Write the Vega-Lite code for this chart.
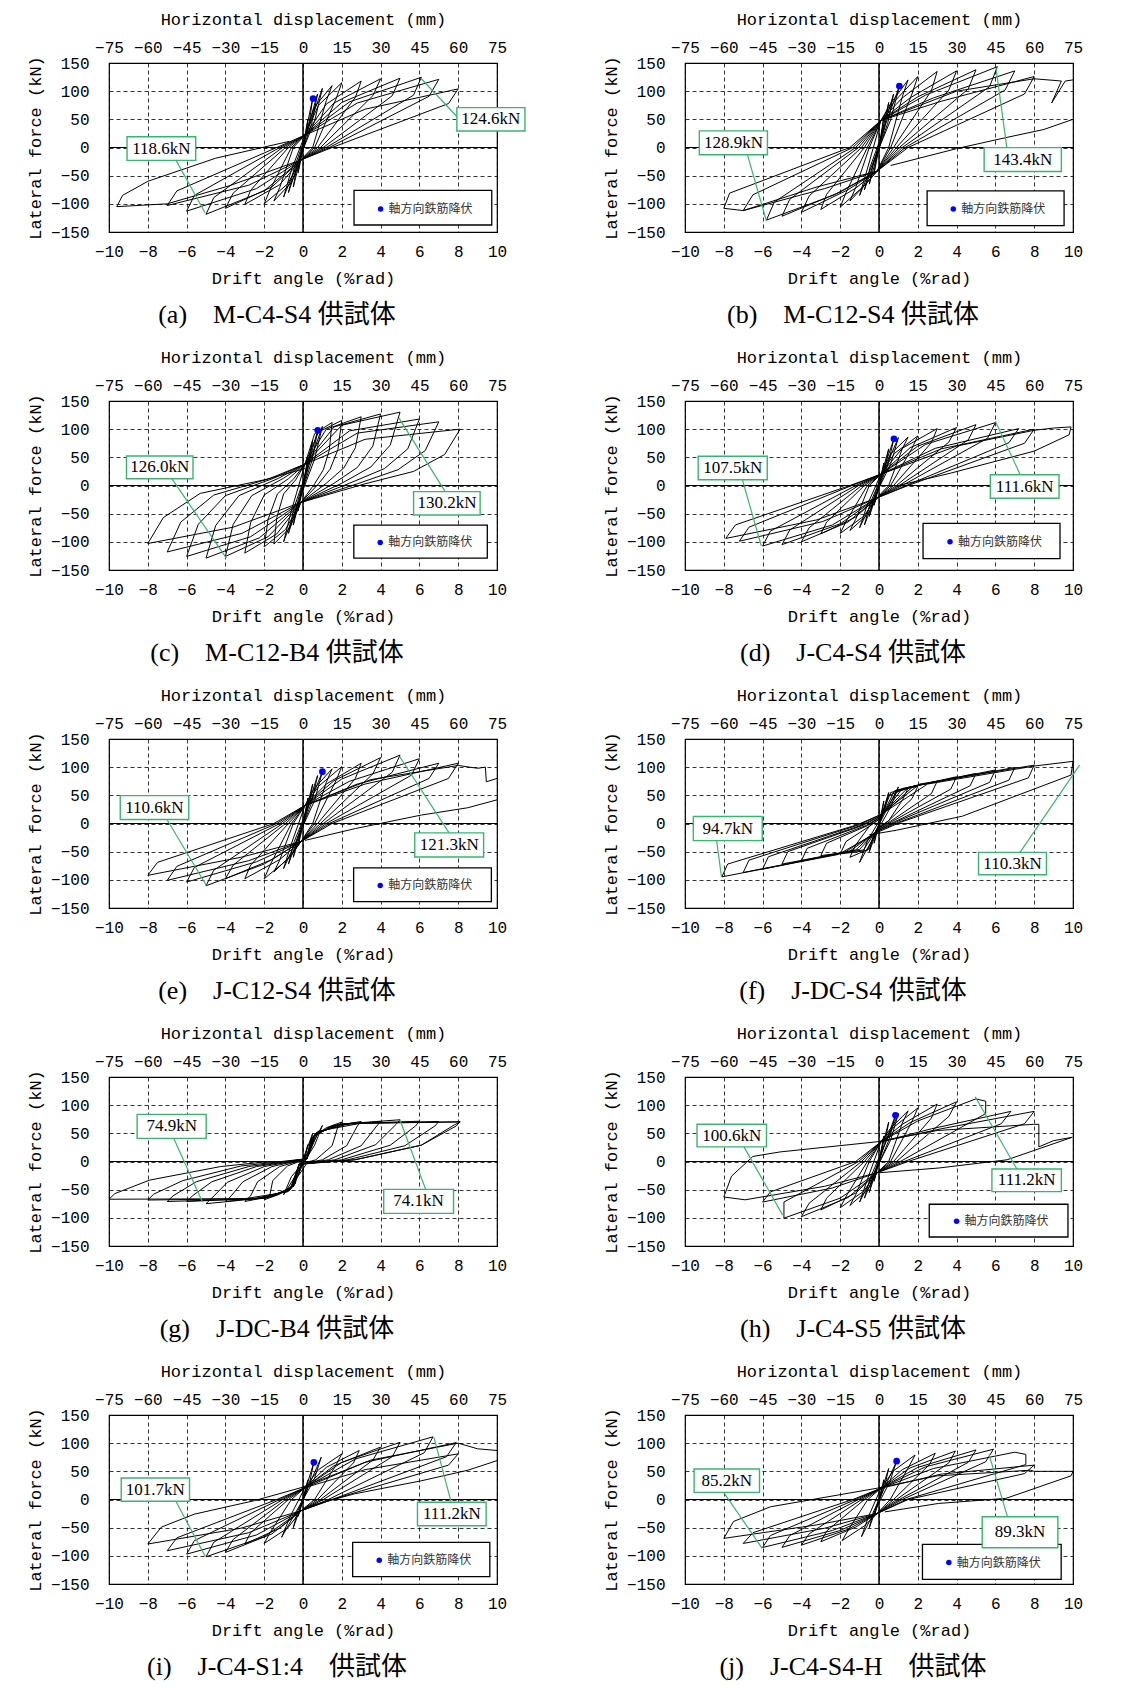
{"$schema":"https://vega.github.io/schema/vega-lite/v6.json","background":"white","padding":{"left":25,"top":9,"right":5,"bottom":2},
"config":{"view":{"stroke":"black","strokeWidth":1.2},"axis":{"labelFont":"Liberation Mono","labelFontSize":16,"labelColor":"black","titleFont":"Liberation Mono","titleFontSize":17,"titleFontWeight":"normal","titleColor":"black","ticks":false,"domain":false,"labelOverlap":false,"labelFlush":false}},
"data":{"values":[
{"p":"a","x":0,"y":0},{"p":"a","x":0.25,"y":50},{"p":"a","x":0.15,"y":22},{"p":"a","x":-0.25,"y":-45},{"p":"a","x":-0.15,"y":-20},{"p":"a","x":0.5,"y":87},{"p":"a","x":0.3,"y":39},{"p":"a","x":-0.5,"y":-70},{"p":"a","x":-0.3,"y":-31},{"p":"a","x":0.75,"y":95},{"p":"a","x":0.45,"y":43},{"p":"a","x":-0.75,"y":-80},{"p":"a","x":-0.45,"y":-36},{"p":"a","x":1,"y":105},{"p":"a","x":0.6,"y":47},{"p":"a","x":-1,"y":-88},{"p":"a","x":-0.6,"y":-40},
{"p":"a","x":0.1,"y":22},{"p":"a","x":0.6,"y":72},{"p":"a","x":1.5,"y":110},{"p":"a","x":1.2,"y":83},{"p":"a","x":0.5,"y":0},{"p":"a","x":-0.1,"y":-22},{"p":"a","x":-0.6,"y":-62},{"p":"a","x":-1.5,"y":-95},{"p":"a","x":-1.2,"y":-71},{"p":"a","x":-0.5,"y":0},
{"p":"a","x":0.1,"y":22},{"p":"a","x":0.8,"y":75},{"p":"a","x":2,"y":115},{"p":"a","x":1.7,"y":86},{"p":"a","x":0.6,"y":0},{"p":"a","x":-0.1,"y":-22},{"p":"a","x":-0.8,"y":-65},{"p":"a","x":-2,"y":-100},{"p":"a","x":-1.7,"y":-75},{"p":"a","x":-0.6,"y":0},
{"p":"a","x":0.1,"y":22},{"p":"a","x":1.2,"y":77},{"p":"a","x":3,"y":118},{"p":"a","x":2.7,"y":89},{"p":"a","x":0.75,"y":0},{"p":"a","x":-0.1,"y":-22},{"p":"a","x":-1.2,"y":-66},{"p":"a","x":-3,"y":-101},{"p":"a","x":-2.7,"y":-76},{"p":"a","x":-0.75,"y":0},
{"p":"a","x":0.1,"y":22},{"p":"a","x":1.6,"y":79},{"p":"a","x":4,"y":122},{"p":"a","x":3.6,"y":92},{"p":"a","x":0.9,"y":0},{"p":"a","x":-0.1,"y":-22},{"p":"a","x":-1.6,"y":-70},{"p":"a","x":-4,"y":-108},{"p":"a","x":-3.6,"y":-81},{"p":"a","x":-0.9,"y":0},
{"p":"a","x":0.1,"y":22},{"p":"a","x":2,"y":80},{"p":"a","x":5,"y":123},{"p":"a","x":4.6,"y":92},{"p":"a","x":1.05,"y":0},{"p":"a","x":-0.1,"y":-22},{"p":"a","x":-2,"y":-77},{"p":"a","x":-5,"y":-118.6},{"p":"a","x":-4.6,"y":-89},{"p":"a","x":-1.05,"y":0},
{"p":"a","x":0.1,"y":22},{"p":"a","x":2.4,"y":81},{"p":"a","x":6.1,"y":124.6},{"p":"a","x":5.7,"y":93},{"p":"a","x":1.2,"y":0},{"p":"a","x":-0.1,"y":-22},{"p":"a","x":-2.4,"y":-73},{"p":"a","x":-6,"y":-113},{"p":"a","x":-5.6,"y":-85},{"p":"a","x":-1.2,"y":0},
{"p":"a","x":0.1,"y":22},{"p":"a","x":2.8,"y":79},{"p":"a","x":7,"y":121},{"p":"a","x":6.5,"y":91},{"p":"a","x":1.35,"y":0},{"p":"a","x":-0.1,"y":-22},{"p":"a","x":-2.8,"y":-67},{"p":"a","x":-7,"y":-103},{"p":"a","x":-6.5,"y":-77},{"p":"a","x":-1.35,"y":0},
{"p":"a","x":0.1,"y":22},{"p":"a","x":3.2,"y":68},{"p":"a","x":8,"y":104},{"p":"a","x":7.5,"y":78},{"p":"a","x":1.5,"y":0},{"p":"a","x":-0.1,"y":-22},{"p":"a","x":-3.8,"y":-68},{"p":"a","x":-7,"y":-100},{"p":"a","x":-9.6,"y":-105},{"p":"a","x":-9.3,"y":-85},{"p":"a","x":-8,"y":-60},{"p":"a","x":-4.5,"y":-19},{"p":"a","x":-0.7,"y":11},

{"p":"b","x":0,"y":0},{"p":"b","x":0.25,"y":55},{"p":"b","x":0.15,"y":25},{"p":"b","x":-0.25,"y":-45},{"p":"b","x":-0.15,"y":-20},{"p":"b","x":0.5,"y":80},{"p":"b","x":0.3,"y":36},{"p":"b","x":-0.5,"y":-65},{"p":"b","x":-0.3,"y":-29},{"p":"b","x":0.75,"y":95},{"p":"b","x":0.45,"y":43},{"p":"b","x":-0.75,"y":-75},{"p":"b","x":-0.45,"y":-34},{"p":"b","x":1.05,"y":109},{"p":"b","x":0.6,"y":49},{"p":"b","x":-1,"y":-85},{"p":"b","x":-0.6,"y":-38},
{"p":"b","x":0.1,"y":48},{"p":"b","x":0.6,"y":78},{"p":"b","x":1.5,"y":120},{"p":"b","x":1.2,"y":90},{"p":"b","x":0.5,"y":0},{"p":"b","x":-0.1,"y":-42},{"p":"b","x":-0.6,"y":-62},{"p":"b","x":-1.5,"y":-95},{"p":"b","x":-1.2,"y":-71},{"p":"b","x":-0.5,"y":0},
{"p":"b","x":0.1,"y":48},{"p":"b","x":0.8,"y":82},{"p":"b","x":2,"y":126},{"p":"b","x":1.7,"y":95},{"p":"b","x":0.6,"y":0},{"p":"b","x":-0.1,"y":-42},{"p":"b","x":-0.8,"y":-69},{"p":"b","x":-2,"y":-106},{"p":"b","x":-1.7,"y":-80},{"p":"b","x":-0.6,"y":0},
{"p":"b","x":0.1,"y":48},{"p":"b","x":1.2,"y":88},{"p":"b","x":3,"y":135},{"p":"b","x":2.7,"y":101},{"p":"b","x":0.75,"y":0},{"p":"b","x":-0.1,"y":-42},{"p":"b","x":-1.2,"y":-72},{"p":"b","x":-3,"y":-110},{"p":"b","x":-2.7,"y":-83},{"p":"b","x":-0.75,"y":0},
{"p":"b","x":0.1,"y":48},{"p":"b","x":1.6,"y":88},{"p":"b","x":4,"y":136},{"p":"b","x":3.6,"y":102},{"p":"b","x":0.9,"y":0},{"p":"b","x":-0.1,"y":-42},{"p":"b","x":-1.6,"y":-75},{"p":"b","x":-4,"y":-115},{"p":"b","x":-3.6,"y":-86},{"p":"b","x":-0.9,"y":0},
{"p":"b","x":0.1,"y":48},{"p":"b","x":2,"y":90},{"p":"b","x":5,"y":138},{"p":"b","x":4.6,"y":104},{"p":"b","x":1.05,"y":0},{"p":"b","x":-0.1,"y":-42},{"p":"b","x":-2,"y":-79},{"p":"b","x":-5,"y":-122},{"p":"b","x":-4.6,"y":-92},{"p":"b","x":-1.05,"y":0},
{"p":"b","x":0.1,"y":48},{"p":"b","x":2.4,"y":93},{"p":"b","x":6.1,"y":143.4},{"p":"b","x":5.7,"y":108},{"p":"b","x":1.2,"y":0},{"p":"b","x":-0.1,"y":-42},{"p":"b","x":-2.3,"y":-84},{"p":"b","x":-5.8,"y":-128.9},{"p":"b","x":-5.4,"y":-97},{"p":"b","x":-1.2,"y":0},
{"p":"b","x":0.1,"y":48},{"p":"b","x":2.8,"y":88},{"p":"b","x":7,"y":136},{"p":"b","x":6.5,"y":102},{"p":"b","x":1.35,"y":0},{"p":"b","x":-0.1,"y":-42},{"p":"b","x":-2.8,"y":-73},{"p":"b","x":-7,"y":-112},{"p":"b","x":-6.5,"y":-84},{"p":"b","x":-1.35,"y":0},
{"p":"b","x":0.1,"y":48},{"p":"b","x":3.2,"y":82},{"p":"b","x":8,"y":126},{"p":"b","x":7.5,"y":95},{"p":"b","x":1.5,"y":0},{"p":"b","x":-0.1,"y":-42},{"p":"b","x":-3.2,"y":-70},{"p":"b","x":-7,"y":-112},{"p":"b","x":-8,"y":-108},{"p":"b","x":-7.7,"y":-81},{"p":"b","x":-1.5,"y":0},
{"p":"b","x":0.1,"y":48},{"p":"b","x":4,"y":100},{"p":"b","x":8,"y":122},{"p":"b","x":9.4,"y":118},{"p":"b","x":8.9,"y":79},{"p":"b","x":9.6,"y":118},{"p":"b","x":10,"y":120},
{"p":"b","g":1,"x":0.6,"y":-32},{"p":"b","g":1,"x":4,"y":-2},{"p":"b","g":1,"x":6.6,"y":18},{"p":"b","g":1,"x":8.5,"y":32},{"p":"b","g":1,"x":10,"y":50},

{"p":"c","x":0,"y":0},{"p":"c","x":0.25,"y":50},{"p":"c","x":0.15,"y":23},{"p":"c","x":-0.25,"y":-45},{"p":"c","x":-0.15,"y":-20},{"p":"c","x":0.5,"y":80},{"p":"c","x":0.3,"y":36},{"p":"c","x":-0.5,"y":-70},{"p":"c","x":-0.3,"y":-32},{"p":"c","x":0.76,"y":98},{"p":"c","x":0.46,"y":44},{"p":"c","x":-0.75,"y":-85},{"p":"c","x":-0.45,"y":-38},{"p":"c","x":1,"y":105},{"p":"c","x":0.6,"y":47},{"p":"c","x":-1,"y":-100},{"p":"c","x":-0.6,"y":-45},
{"p":"c","x":0.1,"y":38},{"p":"c","x":0.6,"y":92},{"p":"c","x":1.5,"y":112},{"p":"c","x":1.35,"y":62},{"p":"c","x":1.05,"y":28},{"p":"c","x":0.6,"y":3},{"p":"c","x":-0.1,"y":-30},{"p":"c","x":-0.68,"y":-75},{"p":"c","x":-1.5,"y":-104},{"p":"c","x":-1.35,"y":-57},{"p":"c","x":-1,"y":-15},{"p":"c","x":-0.38,"y":10},
{"p":"c","x":0.1,"y":38},{"p":"c","x":0.8,"y":95},{"p":"c","x":2,"y":115.5},{"p":"c","x":1.8,"y":64},{"p":"c","x":1.4,"y":29},{"p":"c","x":0.8,"y":3},{"p":"c","x":-0.1,"y":-30},{"p":"c","x":-0.9,"y":-78},{"p":"c","x":-2,"y":-109},{"p":"c","x":-1.8,"y":-60},{"p":"c","x":-1.32,"y":-15},{"p":"c","x":-0.5,"y":11},
{"p":"c","x":0.1,"y":38},{"p":"c","x":1.2,"y":100},{"p":"c","x":3,"y":122},{"p":"c","x":2.7,"y":67},{"p":"c","x":2.1,"y":31},{"p":"c","x":1.2,"y":4},{"p":"c","x":-0.1,"y":-30},{"p":"c","x":-1.35,"y":-86},{"p":"c","x":-3,"y":-120},{"p":"c","x":-2.7,"y":-66},{"p":"c","x":-2,"y":-17},{"p":"c","x":-0.75,"y":12},
{"p":"c","x":0.1,"y":38},{"p":"c","x":1.6,"y":104},{"p":"c","x":4,"y":127},{"p":"c","x":3.6,"y":70},{"p":"c","x":2.8,"y":32},{"p":"c","x":1.6,"y":4},{"p":"c","x":-0.1,"y":-30},{"p":"c","x":-1.8,"y":-91},{"p":"c","x":-4,"y":-126},{"p":"c","x":-3.6,"y":-69},{"p":"c","x":-2.64,"y":-18},{"p":"c","x":-1,"y":13},
{"p":"c","x":0.1,"y":38},{"p":"c","x":2,"y":107},{"p":"c","x":5,"y":130.2},{"p":"c","x":4.5,"y":72},{"p":"c","x":3.5,"y":33},{"p":"c","x":2,"y":4},{"p":"c","x":-0.1,"y":-30},{"p":"c","x":-2.25,"y":-93},{"p":"c","x":-5,"y":-129},{"p":"c","x":-4.5,"y":-71},{"p":"c","x":-3.3,"y":-18},{"p":"c","x":-1.25,"y":13},
{"p":"c","x":0.1,"y":38},{"p":"c","x":2.4,"y":97},{"p":"c","x":6,"y":118},{"p":"c","x":5.4,"y":65},{"p":"c","x":4.2,"y":30},{"p":"c","x":2.4,"y":4},{"p":"c","x":-0.1,"y":-30},{"p":"c","x":-2.7,"y":-91},{"p":"c","x":-6,"y":-126},{"p":"c","x":-5.4,"y":-69},{"p":"c","x":-4,"y":-18},{"p":"c","x":-1.5,"y":13},
{"p":"c","x":0.1,"y":38},{"p":"c","x":2.8,"y":93},{"p":"c","x":7,"y":113},{"p":"c","x":6.3,"y":62},{"p":"c","x":4.9,"y":28},{"p":"c","x":2.8,"y":3},{"p":"c","x":-0.1,"y":-30},{"p":"c","x":-3.15,"y":-85},{"p":"c","x":-7,"y":-118},{"p":"c","x":-6.3,"y":-65},{"p":"c","x":-4.6,"y":-17},{"p":"c","x":-1.75,"y":12},
{"p":"c","x":0.1,"y":38},{"p":"c","x":3.2,"y":82},{"p":"c","x":8.1,"y":100},{"p":"c","x":7.3,"y":55},{"p":"c","x":5.7,"y":25},{"p":"c","x":3.2,"y":3},{"p":"c","x":-0.1,"y":-30},{"p":"c","x":-3.6,"y":-74},{"p":"c","x":-8,"y":-103},{"p":"c","x":-7.2,"y":-57},{"p":"c","x":-5.3,"y":-14},{"p":"c","x":-2,"y":10},{"p":"c","x":0.1,"y":30},

{"p":"d","x":0,"y":0},{"p":"d","x":0.25,"y":40},{"p":"d","x":0.15,"y":18},{"p":"d","x":-0.25,"y":-35},{"p":"d","x":-0.15,"y":-16},{"p":"d","x":0.5,"y":65},{"p":"d","x":0.3,"y":29},{"p":"d","x":-0.5,"y":-55},{"p":"d","x":-0.3,"y":-25},{"p":"d","x":0.77,"y":83},{"p":"d","x":0.46,"y":37},{"p":"d","x":-0.75,"y":-70},{"p":"d","x":-0.45,"y":-31},{"p":"d","x":1,"y":85},{"p":"d","x":0.6,"y":38},{"p":"d","x":-1,"y":-75},{"p":"d","x":-0.6,"y":-34},
{"p":"d","x":0.1,"y":20},{"p":"d","x":0.6,"y":56},{"p":"d","x":1.5,"y":86},{"p":"d","x":1.2,"y":65},{"p":"d","x":0.5,"y":0},{"p":"d","x":-0.1,"y":-22},{"p":"d","x":-0.6,"y":-52},{"p":"d","x":-1.5,"y":-80},{"p":"d","x":-1.2,"y":-60},{"p":"d","x":-0.5,"y":0},
{"p":"d","x":0.1,"y":20},{"p":"d","x":0.8,"y":57},{"p":"d","x":2,"y":88},{"p":"d","x":1.7,"y":66},{"p":"d","x":0.6,"y":0},{"p":"d","x":-0.1,"y":-22},{"p":"d","x":-0.8,"y":-55},{"p":"d","x":-2,"y":-85},{"p":"d","x":-1.7,"y":-64},{"p":"d","x":-0.6,"y":0},
{"p":"d","x":0.1,"y":20},{"p":"d","x":1.2,"y":66},{"p":"d","x":3,"y":101},{"p":"d","x":2.7,"y":76},{"p":"d","x":0.75,"y":0},{"p":"d","x":-0.1,"y":-22},{"p":"d","x":-1.2,"y":-56},{"p":"d","x":-3,"y":-86},{"p":"d","x":-2.7,"y":-65},{"p":"d","x":-0.75,"y":0},
{"p":"d","x":0.1,"y":20},{"p":"d","x":1.6,"y":67},{"p":"d","x":4,"y":103},{"p":"d","x":3.6,"y":77},{"p":"d","x":0.9,"y":0},{"p":"d","x":-0.1,"y":-22},{"p":"d","x":-1.6,"y":-65},{"p":"d","x":-4,"y":-100},{"p":"d","x":-3.6,"y":-75},{"p":"d","x":-0.9,"y":0},
{"p":"d","x":0.1,"y":20},{"p":"d","x":2,"y":70},{"p":"d","x":5,"y":108},{"p":"d","x":4.6,"y":81},{"p":"d","x":1.05,"y":0},{"p":"d","x":-0.1,"y":-22},{"p":"d","x":-2,"y":-68},{"p":"d","x":-5,"y":-105},{"p":"d","x":-4.6,"y":-79},{"p":"d","x":-1.05,"y":0},
{"p":"d","x":0.1,"y":20},{"p":"d","x":2.4,"y":73},{"p":"d","x":6,"y":111.6},{"p":"d","x":5.6,"y":84},{"p":"d","x":1.2,"y":0},{"p":"d","x":-0.1,"y":-22},{"p":"d","x":-2.4,"y":-70},{"p":"d","x":-6,"y":-107.5},{"p":"d","x":-5.6,"y":-81},{"p":"d","x":-1.2,"y":0},
{"p":"d","x":0.1,"y":20},{"p":"d","x":2.9,"y":66},{"p":"d","x":7.2,"y":101},{"p":"d","x":6.7,"y":76},{"p":"d","x":1.4,"y":0},{"p":"d","x":-0.1,"y":-22},{"p":"d","x":-2.9,"y":-64},{"p":"d","x":-7.2,"y":-99},{"p":"d","x":-6.7,"y":-74},{"p":"d","x":-1.4,"y":0},
{"p":"d","x":0.1,"y":20},{"p":"d","x":3.2,"y":65},{"p":"d","x":8,"y":100},{"p":"d","x":7.5,"y":75},{"p":"d","x":1.5,"y":0},{"p":"d","x":-0.1,"y":-22},{"p":"d","x":-3.2,"y":-61},{"p":"d","x":-7.9,"y":-94},{"p":"d","x":-7.4,"y":-70},{"p":"d","x":-1.5,"y":0},
{"p":"d","x":0.1,"y":20},{"p":"d","x":4,"y":70},{"p":"d","x":8,"y":98},{"p":"d","x":9,"y":102},{"p":"d","x":9.9,"y":104},{"p":"d","x":9.8,"y":90},{"p":"d","x":8,"y":61},{"p":"d","x":3.7,"y":22},{"p":"d","x":1,"y":0},

{"p":"e","x":0,"y":0},{"p":"e","x":0.25,"y":45},{"p":"e","x":0.15,"y":20},{"p":"e","x":-0.25,"y":-40},{"p":"e","x":-0.15,"y":-18},{"p":"e","x":0.5,"y":70},{"p":"e","x":0.3,"y":32},{"p":"e","x":-0.5,"y":-60},{"p":"e","x":-0.3,"y":-27},{"p":"e","x":0.75,"y":85},{"p":"e","x":0.45,"y":38},{"p":"e","x":-0.75,"y":-72},{"p":"e","x":-0.45,"y":-32},{"p":"e","x":1,"y":92},{"p":"e","x":0.6,"y":41},{"p":"e","x":-1,"y":-80},{"p":"e","x":-0.6,"y":-36},
{"p":"e","x":0.1,"y":32},{"p":"e","x":0.6,"y":63},{"p":"e","x":1.5,"y":97},{"p":"e","x":1.2,"y":73},{"p":"e","x":0.5,"y":0},{"p":"e","x":-0.1,"y":-32},{"p":"e","x":-0.6,"y":-56},{"p":"e","x":-1.5,"y":-86},{"p":"e","x":-1.2,"y":-65},{"p":"e","x":-0.5,"y":0},
{"p":"e","x":0.1,"y":32},{"p":"e","x":0.8,"y":66},{"p":"e","x":2,"y":101},{"p":"e","x":1.7,"y":76},{"p":"e","x":0.6,"y":0},{"p":"e","x":-0.1,"y":-32},{"p":"e","x":-0.8,"y":-64},{"p":"e","x":-2,"y":-98},{"p":"e","x":-1.7,"y":-74},{"p":"e","x":-0.6,"y":0},
{"p":"e","x":0.1,"y":32},{"p":"e","x":1.2,"y":70},{"p":"e","x":3,"y":107},{"p":"e","x":2.7,"y":80},{"p":"e","x":0.75,"y":0},{"p":"e","x":-0.1,"y":-32},{"p":"e","x":-1.2,"y":-64},{"p":"e","x":-3,"y":-98},{"p":"e","x":-2.7,"y":-74},{"p":"e","x":-0.75,"y":0},
{"p":"e","x":0.1,"y":32},{"p":"e","x":1.6,"y":76},{"p":"e","x":4,"y":117},{"p":"e","x":3.6,"y":88},{"p":"e","x":0.9,"y":0},{"p":"e","x":-0.1,"y":-32},{"p":"e","x":-1.6,"y":-64},{"p":"e","x":-4,"y":-98},{"p":"e","x":-3.6,"y":-74},{"p":"e","x":-0.9,"y":0},
{"p":"e","x":0.1,"y":32},{"p":"e","x":2,"y":79},{"p":"e","x":5,"y":121.3},{"p":"e","x":4.6,"y":91},{"p":"e","x":1.05,"y":0},{"p":"e","x":-0.1,"y":-32},{"p":"e","x":-2,"y":-72},{"p":"e","x":-5,"y":-110.6},{"p":"e","x":-4.6,"y":-83},{"p":"e","x":-1.05,"y":0},
{"p":"e","x":0.1,"y":32},{"p":"e","x":2.4,"y":75},{"p":"e","x":6,"y":115},{"p":"e","x":5.6,"y":86},{"p":"e","x":1.2,"y":0},{"p":"e","x":-0.1,"y":-32},{"p":"e","x":-2.4,"y":-68},{"p":"e","x":-6,"y":-104},{"p":"e","x":-5.6,"y":-78},{"p":"e","x":-1.2,"y":0},
{"p":"e","x":0.1,"y":32},{"p":"e","x":2.8,"y":70},{"p":"e","x":7,"y":107},{"p":"e","x":6.5,"y":80},{"p":"e","x":1.35,"y":0},{"p":"e","x":-0.1,"y":-32},{"p":"e","x":-2.8,"y":-66},{"p":"e","x":-7,"y":-101},{"p":"e","x":-6.5,"y":-76},{"p":"e","x":-1.35,"y":0},
{"p":"e","x":0.1,"y":32},{"p":"e","x":3.2,"y":70},{"p":"e","x":8,"y":107},{"p":"e","x":7.5,"y":80},{"p":"e","x":1.5,"y":0},{"p":"e","x":-0.1,"y":-32},{"p":"e","x":-3.2,"y":-60},{"p":"e","x":-8,"y":-92},{"p":"e","x":-7.5,"y":-69},{"p":"e","x":-1.5,"y":0},
{"p":"e","x":0.1,"y":32},{"p":"e","x":3.5,"y":78},{"p":"e","x":8,"y":103},{"p":"e","x":9,"y":98},{"p":"e","x":9.4,"y":100},{"p":"e","x":9.45,"y":74},{"p":"e","x":10,"y":80},
{"p":"e","g":1,"x":0.1,"y":-30},{"p":"e","g":1,"x":2.7,"y":-9},{"p":"e","g":1,"x":6.1,"y":15},{"p":"e","g":1,"x":8.5,"y":28},{"p":"e","g":1,"x":10,"y":42},

{"p":"f","x":0,"y":0},{"p":"f","x":0.25,"y":40},{"p":"f","x":0.15,"y":18},{"p":"f","x":-0.25,"y":-35},{"p":"f","x":-0.15,"y":-16},{"p":"f","x":0.5,"y":55},{"p":"f","x":0.3,"y":25},{"p":"f","x":-0.5,"y":-50},{"p":"f","x":-0.3,"y":-22},{"p":"f","x":1,"y":65},{"p":"f","x":0.6,"y":29},{"p":"f","x":-1,"y":-69},{"p":"f","x":-0.6,"y":-31},
{"p":"f","x":0.1,"y":10},{"p":"f","x":0.5,"y":50},{"p":"f","x":1.5,"y":63},{"p":"f","x":1.2,"y":41},{"p":"f","x":0.5,"y":5},{"p":"f","x":-0.1,"y":-10},{"p":"f","x":-0.5,"y":-45},{"p":"f","x":-1.5,"y":-60},{"p":"f","x":-1.2,"y":-38},{"p":"f","x":-0.5,"y":-5},
{"p":"f","x":0.1,"y":10},{"p":"f","x":0.6,"y":55},{"p":"f","x":2,"y":66},{"p":"f","x":1.7,"y":44},{"p":"f","x":0.5,"y":5},{"p":"f","x":-0.1,"y":-10},{"p":"f","x":-0.6,"y":-48},{"p":"f","x":-2,"y":-54},{"p":"f","x":-1.7,"y":-32},{"p":"f","x":-0.5,"y":-5},
{"p":"f","x":0.1,"y":10},{"p":"f","x":0.8,"y":58},{"p":"f","x":3,"y":75},{"p":"f","x":2.7,"y":53},{"p":"f","x":0.6,"y":4},{"p":"f","x":-0.1,"y":-10},{"p":"f","x":-0.8,"y":-47},{"p":"f","x":-3,"y":-57},{"p":"f","x":-2.7,"y":-35},{"p":"f","x":-0.6,"y":-4},
{"p":"f","x":0.1,"y":12},{"p":"f","x":1,"y":60},{"p":"f","x":4,"y":83},{"p":"f","x":3.7,"y":61},{"p":"f","x":0.7,"y":4},{"p":"f","x":-0.1,"y":-12},{"p":"f","x":-1,"y":-46},{"p":"f","x":-4,"y":-66},{"p":"f","x":-3.7,"y":-44},{"p":"f","x":-0.7,"y":-4},
{"p":"f","x":0.1,"y":12},{"p":"f","x":1.2,"y":62},{"p":"f","x":5,"y":89},{"p":"f","x":4.7,"y":67},{"p":"f","x":0.8,"y":3},{"p":"f","x":-0.1,"y":-12},{"p":"f","x":-1.2,"y":-47},{"p":"f","x":-5,"y":-72},{"p":"f","x":-4.7,"y":-50},{"p":"f","x":-0.8,"y":-3},
{"p":"f","x":0.1,"y":14},{"p":"f","x":1.5,"y":64},{"p":"f","x":6,"y":95},{"p":"f","x":5.7,"y":73},{"p":"f","x":0.9,"y":3},{"p":"f","x":-0.1,"y":-14},{"p":"f","x":-1.5,"y":-49},{"p":"f","x":-6,"y":-81},{"p":"f","x":-5.7,"y":-59},{"p":"f","x":-0.9,"y":-3},
{"p":"f","x":0.1,"y":14},{"p":"f","x":1.8,"y":67},{"p":"f","x":7,"y":99.5},{"p":"f","x":6.7,"y":77},{"p":"f","x":1,"y":2},{"p":"f","x":-0.1,"y":-14},{"p":"f","x":-1.8,"y":-52},{"p":"f","x":-7,"y":-87},{"p":"f","x":-6.7,"y":-65},{"p":"f","x":-1,"y":-2},
{"p":"f","x":0.1,"y":16},{"p":"f","x":2.1,"y":70},{"p":"f","x":8,"y":103.6},{"p":"f","x":7.7,"y":81},{"p":"f","x":1.1,"y":2},{"p":"f","x":-0.1,"y":-16},{"p":"f","x":-2.1,"y":-55},{"p":"f","x":-8.1,"y":-94.7},{"p":"f","x":-7.8,"y":-72},{"p":"f","x":-1.1,"y":-2},
{"p":"f","x":0.1,"y":16},{"p":"f","x":2.5,"y":70},{"p":"f","x":8,"y":102},{"p":"f","x":10,"y":110.3},{"p":"f","x":9.9,"y":86},{"p":"f","x":4.3,"y":13},{"p":"f","x":0.9,"y":-12},{"p":"f","x":-0.5,"y":-20},

{"p":"g","x":0,"y":0},{"p":"g","x":0.25,"y":30},{"p":"g","x":0.15,"y":13},{"p":"g","x":-0.25,"y":-25},{"p":"g","x":-0.15,"y":-11},{"p":"g","x":0.5,"y":50},{"p":"g","x":0.3,"y":22},{"p":"g","x":-0.5,"y":-45},{"p":"g","x":-0.3,"y":-20},{"p":"g","x":1,"y":64},{"p":"g","x":0.6,"y":29},{"p":"g","x":-1,"y":-59},{"p":"g","x":-0.6,"y":-27},
{"p":"g","x":0.2,"y":5},{"p":"g","x":0.4,"y":40},{"p":"g","x":1.2,"y":60},{"p":"g","x":2,"y":70},{"p":"g","x":1.8,"y":62},{"p":"g","x":1.5,"y":28},{"p":"g","x":0.66,"y":3},{"p":"g","x":-0.2,"y":-5},{"p":"g","x":-0.4,"y":-40},{"p":"g","x":-1.2,"y":-58},{"p":"g","x":-2,"y":-68},{"p":"g","x":-1.7,"y":-58},{"p":"g","x":-1.56,"y":-34},{"p":"g","x":-0.8,"y":-8},
{"p":"g","x":0.2,"y":5},{"p":"g","x":0.45,"y":42},{"p":"g","x":1.4,"y":62},{"p":"g","x":3,"y":71},{"p":"g","x":2.8,"y":63},{"p":"g","x":2.25,"y":28},{"p":"g","x":1,"y":3},{"p":"g","x":-0.2,"y":-5},{"p":"g","x":-0.45,"y":-42},{"p":"g","x":-1.4,"y":-60},{"p":"g","x":-3,"y":-71},{"p":"g","x":-2.7,"y":-61},{"p":"g","x":-2.34,"y":-36},{"p":"g","x":-1.2,"y":-9},
{"p":"g","x":0.2,"y":5},{"p":"g","x":0.5,"y":44},{"p":"g","x":1.6,"y":64},{"p":"g","x":4,"y":71},{"p":"g","x":3.8,"y":63},{"p":"g","x":3,"y":28},{"p":"g","x":1.3,"y":3},{"p":"g","x":-0.2,"y":-5},{"p":"g","x":-0.5,"y":-44},{"p":"g","x":-1.6,"y":-62},{"p":"g","x":-4,"y":-71},{"p":"g","x":-3.7,"y":-61},{"p":"g","x":-3.1,"y":-36},{"p":"g","x":-1.6,"y":-9},
{"p":"g","x":0.2,"y":5},{"p":"g","x":0.55,"y":46},{"p":"g","x":1.8,"y":66},{"p":"g","x":5,"y":74.1},{"p":"g","x":4.8,"y":66},{"p":"g","x":3.75,"y":30},{"p":"g","x":1.65,"y":3},{"p":"g","x":-0.2,"y":-5},{"p":"g","x":-0.55,"y":-46},{"p":"g","x":-1.8,"y":-64},{"p":"g","x":-5,"y":-74.9},{"p":"g","x":-4.7,"y":-65},{"p":"g","x":-3.9,"y":-37},{"p":"g","x":-2,"y":-9},
{"p":"g","x":0.2,"y":5},{"p":"g","x":0.6,"y":48},{"p":"g","x":2,"y":67},{"p":"g","x":6,"y":71.5},{"p":"g","x":5.8,"y":63},{"p":"g","x":4.5,"y":29},{"p":"g","x":2,"y":3},{"p":"g","x":-0.2,"y":-5},{"p":"g","x":-0.6,"y":-48},{"p":"g","x":-2,"y":-65},{"p":"g","x":-6,"y":-71},{"p":"g","x":-5.7,"y":-61},{"p":"g","x":-4.7,"y":-36},{"p":"g","x":-2.4,"y":-9},
{"p":"g","x":0.2,"y":5},{"p":"g","x":0.65,"y":50},{"p":"g","x":2.2,"y":67},{"p":"g","x":7,"y":71},{"p":"g","x":6.8,"y":63},{"p":"g","x":5.25,"y":28},{"p":"g","x":2.3,"y":3},{"p":"g","x":-0.2,"y":-5},{"p":"g","x":-0.65,"y":-50},{"p":"g","x":-2.2,"y":-66},{"p":"g","x":-7,"y":-71},{"p":"g","x":-6.7,"y":-61},{"p":"g","x":-5.5,"y":-36},{"p":"g","x":-2.8,"y":-9},
{"p":"g","x":0.2,"y":5},{"p":"g","x":0.7,"y":52},{"p":"g","x":2.5,"y":68},{"p":"g","x":8.1,"y":70.7},{"p":"g","x":7.9,"y":63},{"p":"g","x":6.1,"y":29},{"p":"g","x":2.7,"y":3},{"p":"g","x":-0.2,"y":-5},{"p":"g","x":-0.7,"y":-52},{"p":"g","x":-2.5,"y":-66},{"p":"g","x":-8,"y":-68.4},{"p":"g","x":-7.7,"y":-58},{"p":"g","x":-6.2,"y":-34},{"p":"g","x":-3.2,"y":-8},
{"p":"g","x":0.2,"y":5},{"p":"g","x":0.8,"y":54},{"p":"g","x":3,"y":68},{"p":"g","x":8.1,"y":70},{"p":"g","x":7.8,"y":65},{"p":"g","x":6.1,"y":29},{"p":"g","x":2.65,"y":3},{"p":"g","x":0.2,"y":-3},{"p":"g","x":-0.8,"y":-54},{"p":"g","x":-3,"y":-66},{"p":"g","x":-10,"y":-67},{"p":"g","x":-9.7,"y":-57},{"p":"g","x":-7.9,"y":-33},{"p":"g","x":-4.25,"y":-9},{"p":"g","x":-2,"y":-1},{"p":"g","x":0,"y":0},

{"p":"h","x":0,"y":0},{"p":"h","x":0.25,"y":45},{"p":"h","x":0.15,"y":20},{"p":"h","x":-0.25,"y":-35},{"p":"h","x":-0.15,"y":-16},{"p":"h","x":0.5,"y":70},{"p":"h","x":0.3,"y":32},{"p":"h","x":-0.5,"y":-55},{"p":"h","x":-0.3,"y":-25},{"p":"h","x":0.85,"y":82},{"p":"h","x":0.5,"y":37},{"p":"h","x":-0.75,"y":-65},{"p":"h","x":-0.45,"y":-29},{"p":"h","x":1,"y":85},{"p":"h","x":0.6,"y":38},{"p":"h","x":-1,"y":-72},{"p":"h","x":-0.6,"y":-32},
{"p":"h","x":0.1,"y":35},{"p":"h","x":0.6,"y":59},{"p":"h","x":1.5,"y":90},{"p":"h","x":1.2,"y":68},{"p":"h","x":0.5,"y":0},{"p":"h","x":-0.1,"y":-20},{"p":"h","x":-0.6,"y":-51},{"p":"h","x":-1.5,"y":-78},{"p":"h","x":-1.2,"y":-59},{"p":"h","x":-0.5,"y":0},
{"p":"h","x":0.1,"y":35},{"p":"h","x":0.8,"y":62},{"p":"h","x":2,"y":95},{"p":"h","x":1.7,"y":71},{"p":"h","x":0.6,"y":0},{"p":"h","x":-0.1,"y":-20},{"p":"h","x":-0.8,"y":-53},{"p":"h","x":-2,"y":-82},{"p":"h","x":-1.7,"y":-62},{"p":"h","x":-0.6,"y":0},
{"p":"h","x":0.1,"y":35},{"p":"h","x":1.2,"y":66},{"p":"h","x":3,"y":102},{"p":"h","x":2.7,"y":77},{"p":"h","x":0.75,"y":0},{"p":"h","x":-0.1,"y":-20},{"p":"h","x":-1.2,"y":-56},{"p":"h","x":-3,"y":-86},{"p":"h","x":-2.7,"y":-65},{"p":"h","x":-0.75,"y":0},
{"p":"h","x":0.1,"y":35},{"p":"h","x":1.6,"y":69},{"p":"h","x":4,"y":106},{"p":"h","x":3.6,"y":80},{"p":"h","x":0.9,"y":0},{"p":"h","x":-0.1,"y":-20},{"p":"h","x":-1.6,"y":-64},{"p":"h","x":-4,"y":-98},{"p":"h","x":-3.6,"y":-74},{"p":"h","x":-0.9,"y":0},
{"p":"h","x":0.1,"y":35},{"p":"h","x":2,"y":72},{"p":"h","x":5,"y":111.2},{"p":"h","x":5.5,"y":107},{"p":"h","x":5.5,"y":85},{"p":"h","x":1.1,"y":0},{"p":"h","x":-0.1,"y":-20},{"p":"h","x":-2,"y":-65},{"p":"h","x":-4.9,"y":-100.6},{"p":"h","x":-4.9,"y":-72},{"p":"h","x":-1.05,"y":0},
{"p":"h","x":0.1,"y":35},{"p":"h","x":2.7,"y":58},{"p":"h","x":6.8,"y":89},{"p":"h","x":6.3,"y":67},{"p":"h","x":1.3,"y":0},{"p":"h","x":-0.1,"y":-20},{"p":"h","x":-2.4,"y":-47},{"p":"h","x":-6,"y":-72},{"p":"h","x":-5.6,"y":-54},{"p":"h","x":-1.2,"y":0},
{"p":"h","x":0.1,"y":35},{"p":"h","x":3.2,"y":58},{"p":"h","x":8,"y":89},{"p":"h","x":7.5,"y":67},{"p":"h","x":1.5,"y":0},{"p":"h","x":-0.1,"y":-20},{"p":"h","x":-2.8,"y":-44},{"p":"h","x":-6.9,"y":-68},{"p":"h","x":-8,"y":-63},{"p":"h","x":-7.6,"y":-26},{"p":"h","x":-6.5,"y":9},{"p":"h","x":-5.1,"y":17},{"p":"h","x":-0.1,"y":35},
{"p":"h","x":3,"y":55},{"p":"h","x":7.98,"y":66},{"p":"h","x":8.24,"y":66},{"p":"h","x":8.24,"y":26},{"p":"h","x":9,"y":37},{"p":"h","x":9.96,"y":43},{"p":"h","x":6.6,"y":3},{"p":"h","x":3.1,"y":-11.5},{"p":"h","x":0,"y":-20},

{"p":"i","x":0,"y":0},{"p":"i","x":0.25,"y":35},{"p":"i","x":0.15,"y":16},{"p":"i","x":-0.25,"y":-30},{"p":"i","x":-0.15,"y":-14},{"p":"i","x":0.56,"y":66},{"p":"i","x":0.34,"y":30},{"p":"i","x":-0.5,"y":-50},{"p":"i","x":-0.3,"y":-23},{"p":"i","x":0.94,"y":75},{"p":"i","x":0.56,"y":34},{"p":"i","x":-1.1,"y":-67},{"p":"i","x":-0.66,"y":-30},
{"p":"i","x":0.1,"y":21},{"p":"i","x":0.8,"y":53},{"p":"i","x":2,"y":81},{"p":"i","x":1.7,"y":61},{"p":"i","x":0.6,"y":0},{"p":"i","x":-0.1,"y":-20},{"p":"i","x":-0.8,"y":-51},{"p":"i","x":-2,"y":-78},{"p":"i","x":-1.7,"y":-59},{"p":"i","x":-0.6,"y":0},
{"p":"i","x":0.1,"y":21},{"p":"i","x":1.2,"y":57},{"p":"i","x":2.9,"y":87},{"p":"i","x":2.6,"y":65},{"p":"i","x":0.75,"y":0},{"p":"i","x":-0.1,"y":-20},{"p":"i","x":-1.2,"y":-51},{"p":"i","x":-3,"y":-79},{"p":"i","x":-2.7,"y":-59},{"p":"i","x":-0.75,"y":0},
{"p":"i","x":0.1,"y":21},{"p":"i","x":1.6,"y":60},{"p":"i","x":4,"y":93},{"p":"i","x":3.6,"y":70},{"p":"i","x":0.9,"y":0},{"p":"i","x":-0.1,"y":-20},{"p":"i","x":-1.6,"y":-61},{"p":"i","x":-4,"y":-94},{"p":"i","x":-3.6,"y":-71},{"p":"i","x":-0.9,"y":0},
{"p":"i","x":0.1,"y":21},{"p":"i","x":2,"y":66},{"p":"i","x":5,"y":101.5},{"p":"i","x":4.6,"y":76},{"p":"i","x":1.05,"y":0},{"p":"i","x":-0.1,"y":-20},{"p":"i","x":-2,"y":-66},{"p":"i","x":-5,"y":-101.7},{"p":"i","x":-4.6,"y":-76},{"p":"i","x":-1.05,"y":0},
{"p":"i","x":0.1,"y":21},{"p":"i","x":2.7,"y":72},{"p":"i","x":6.7,"y":111.2},{"p":"i","x":6.25,"y":83},{"p":"i","x":1.3,"y":0},{"p":"i","x":-0.1,"y":-20},{"p":"i","x":-2.4,"y":-63},{"p":"i","x":-6,"y":-97},{"p":"i","x":-5.6,"y":-73},{"p":"i","x":-1.2,"y":0},
{"p":"i","x":0.1,"y":21},{"p":"i","x":3.2,"y":66},{"p":"i","x":7.9,"y":101},{"p":"i","x":7.4,"y":76},{"p":"i","x":1.5,"y":0},{"p":"i","x":-0.1,"y":-20},{"p":"i","x":-2.8,"y":-59},{"p":"i","x":-7,"y":-91},{"p":"i","x":-6.5,"y":-68},{"p":"i","x":-1.35,"y":0},
{"p":"i","x":0.1,"y":21},{"p":"i","x":3.2,"y":53},{"p":"i","x":8,"y":81},{"p":"i","x":7.5,"y":61},{"p":"i","x":1.5,"y":0},{"p":"i","x":-0.1,"y":-20},{"p":"i","x":-3.2,"y":-51},{"p":"i","x":-8,"y":-79},{"p":"i","x":-7.3,"y":-49},{"p":"i","x":-5.6,"y":-26},{"p":"i","x":-2.5,"y":-2},{"p":"i","x":-0.1,"y":21},
{"p":"i","x":3.5,"y":70},{"p":"i","x":8,"y":100},{"p":"i","x":9,"y":90},{"p":"i","x":10,"y":87},
{"p":"i","g":1,"x":0.1,"y":-14},{"p":"i","g":1,"x":2.65,"y":10},{"p":"i","g":1,"x":6.07,"y":33},{"p":"i","g":1,"x":8.5,"y":52},{"p":"i","g":1,"x":10,"y":69},

{"p":"j","x":0,"y":0},{"p":"j","x":0.25,"y":35},{"p":"j","x":0.15,"y":16},{"p":"j","x":-0.25,"y":-30},{"p":"j","x":-0.15,"y":-14},{"p":"j","x":0.5,"y":55},{"p":"j","x":0.3,"y":25},{"p":"j","x":-0.5,"y":-50},{"p":"j","x":-0.3,"y":-23},{"p":"j","x":0.91,"y":68},{"p":"j","x":0.55,"y":31},{"p":"j","x":-0.9,"y":-66},{"p":"j","x":-0.54,"y":-30},
{"p":"j","x":0.1,"y":20},{"p":"j","x":0.75,"y":51},{"p":"j","x":1.86,"y":79},{"p":"j","x":1.55,"y":59},{"p":"j","x":0.58,"y":0},{"p":"j","x":-0.1,"y":-25},{"p":"j","x":-0.76,"y":-47},{"p":"j","x":-1.9,"y":-73},{"p":"j","x":-1.6,"y":-55},{"p":"j","x":-0.58,"y":0},
{"p":"j","x":0.1,"y":20},{"p":"j","x":1.2,"y":53},{"p":"j","x":2.9,"y":82},{"p":"j","x":2.6,"y":62},{"p":"j","x":0.75,"y":0},{"p":"j","x":-0.1,"y":-25},{"p":"j","x":-1.2,"y":-49},{"p":"j","x":-3,"y":-75},{"p":"j","x":-2.7,"y":-56},{"p":"j","x":-0.75,"y":0},
{"p":"j","x":0.1,"y":20},{"p":"j","x":1.6,"y":56},{"p":"j","x":3.94,"y":86},{"p":"j","x":3.6,"y":65},{"p":"j","x":0.9,"y":0},{"p":"j","x":-0.1,"y":-25},{"p":"j","x":-1.6,"y":-53},{"p":"j","x":-4,"y":-81},{"p":"j","x":-3.6,"y":-61},{"p":"j","x":-0.9,"y":0},
{"p":"j","x":0.1,"y":20},{"p":"j","x":2,"y":57},{"p":"j","x":5,"y":88},{"p":"j","x":4.6,"y":66},{"p":"j","x":1.05,"y":0},{"p":"j","x":-0.1,"y":-25},{"p":"j","x":-2,"y":-55},{"p":"j","x":-5,"y":-85},{"p":"j","x":-4.6,"y":-64},{"p":"j","x":-1.05,"y":0},
{"p":"j","x":0.1,"y":20},{"p":"j","x":2.4,"y":58},{"p":"j","x":5.9,"y":89.3},{"p":"j","x":5.5,"y":67},{"p":"j","x":1.2,"y":0},{"p":"j","x":-0.1,"y":-25},{"p":"j","x":-2.4,"y":-55},{"p":"j","x":-6,"y":-85.2},{"p":"j","x":-5.6,"y":-64},{"p":"j","x":-1.2,"y":0},
{"p":"j","x":0.1,"y":20},{"p":"j","x":2.8,"y":55},{"p":"j","x":7,"y":84},{"p":"j","x":7.57,"y":80},{"p":"j","x":7.57,"y":62},{"p":"j","x":1.4,"y":0},{"p":"j","x":-0.1,"y":-25},{"p":"j","x":-2.8,"y":-51},{"p":"j","x":-7,"y":-78},{"p":"j","x":-6.5,"y":-59},{"p":"j","x":-1.35,"y":0},
{"p":"j","x":0.1,"y":20},{"p":"j","x":3.2,"y":45},{"p":"j","x":8,"y":61},{"p":"j","x":7.5,"y":46},{"p":"j","x":1.5,"y":0},{"p":"j","x":-0.1,"y":-25},{"p":"j","x":-3.2,"y":-45},{"p":"j","x":-8,"y":-69},{"p":"j","x":-7.5,"y":-39},{"p":"j","x":-5.6,"y":-13},{"p":"j","x":-2.1,"y":8},{"p":"j","x":-0.1,"y":20},
{"p":"j","x":3,"y":42},{"p":"j","x":7.8,"y":52},{"p":"j","x":8,"y":50},{"p":"j","x":10,"y":50},{"p":"j","x":9.9,"y":42},{"p":"j","x":6.54,"y":2},{"p":"j","x":3.07,"y":-7},{"p":"j","x":0.3,"y":-22},

{"p":"a","t":"n","x1":7.93,"x2":11.44,"y1":70.7,"y2":29.3,"xc":9.68,"yc":50,"a1":7.93,"b1":55,"a2":6.1,"b2":122,"s":"124.6kN"},
{"p":"a","t":"n","x1":-9.07,"x2":-5.53,"y1":19.2,"y2":-22.8,"xc":-7.3,"yc":-1.8,"a1":-6.54,"b1":-22.8,"a2":-5.05,"b2":-115.8,"s":"118.6kN"},
{"p":"b","t":"n","x1":5.42,"x2":9.4,"y1":-0.3,"y2":-42.7,"xc":7.41,"yc":-21.5,"a1":6.59,"b1":-0.3,"a2":6.03,"b2":141.6,"s":"143.4kN"},
{"p":"b","t":"n","x1":-9.26,"x2":-5.75,"y1":29.6,"y2":-13,"xc":-7.5,"yc":8.3,"a1":-6.78,"b1":-13,"a2":-5.8,"b2":-130.8,"s":"128.9kN"},
{"p":"c","t":"n","x1":5.7,"x2":9.13,"y1":-10.9,"y2":-52.3,"xc":7.42,"yc":-31.6,"a1":7.33,"b1":-10.9,"a2":4.94,"b2":120,"s":"130.2kN"},
{"p":"c","t":"n","x1":-9.1,"x2":-5.67,"y1":52.3,"y2":12.1,"xc":-7.38,"yc":32.2,"a1":-6.76,"b1":12.1,"a2":-3.95,"b2":-128.8,"s":"126.0kN"},
{"p":"d","t":"n","x1":5.74,"x2":9.28,"y1":19.1,"y2":-22.7,"xc":7.51,"yc":-1.8,"a1":7.28,"b1":19.1,"a2":6.0,"b2":114,"s":"111.6kN"},
{"p":"d","t":"n","x1":-9.32,"x2":-5.76,"y1":51.8,"y2":10.1,"xc":-7.54,"yc":31,"a1":-7.04,"b1":10.1,"a2":-6.07,"b2":-107,"s":"107.5kN"},
{"p":"e","t":"n","x1":5.76,"x2":9.31,"y1":-16.7,"y2":-59.5,"xc":7.54,"yc":-38.1,"a1":7.53,"b1":-16.7,"a2":4.98,"b2":119,"s":"121.3kN"},
{"p":"e","t":"n","x1":-9.42,"x2":-5.89,"y1":49.5,"y2":7.1,"xc":-7.66,"yc":28.3,"a1":-7.01,"b1":7.1,"a2":-4.98,"b2":-110,"s":"110.6kN"},
{"p":"f","t":"n","x1":5.13,"x2":8.63,"y1":-51.2,"y2":-91,"xc":6.88,"yc":-71.1,"a1":7.27,"b1":-51.2,"a2":10.34,"b2":103.6,"s":"110.3kN"},
{"p":"f","t":"n","x1":-9.57,"x2":-6.02,"y1":12.5,"y2":-30.4,"xc":-7.8,"yc":-9,"a1":-8.37,"b1":-30.4,"a2":-8.12,"b2":-94.6,"s":"94.7kN"},
{"p":"g","t":"n","x1":4.16,"x2":7.76,"y1":-49.4,"y2":-92,"xc":5.96,"yc":-70.7,"a1":6.32,"b1":-49.4,"a2":5.0,"b2":73.7,"s":"74.1kN"},
{"p":"g","t":"n","x1":-8.55,"x2":-4.99,"y1":83.7,"y2":41,"xc":-6.77,"yc":62.4,"a1":-6.66,"b1":41,"a2":-5.19,"b2":-71.4,"s":"74.9kN"},
{"p":"h","t":"n","x1":5.82,"x2":9.4,"y1":-13.2,"y2":-53.4,"xc":7.61,"yc":-33.3,"a1":7.11,"b1":-13.2,"a2":4.96,"b2":115,"s":"111.2kN"},
{"p":"h","t":"n","x1":-9.38,"x2":-5.8,"y1":66,"y2":25.9,"xc":-7.59,"yc":46,"a1":-6.96,"b1":25.9,"a2":-4.97,"b2":-94.8,"s":"100.6kN"},
{"p":"i","t":"n","x1":5.9,"x2":9.44,"y1":-5,"y2":-46.5,"xc":7.67,"yc":-25.8,"a1":7.64,"b1":-5,"a2":6.75,"b2":110.4,"s":"111.2kN"},
{"p":"i","t":"n","x1":-9.37,"x2":-5.85,"y1":38.2,"y2":-3.2,"xc":-7.61,"yc":17.5,"a1":-6.55,"b1":-3.2,"a2":-5.04,"b2":-100.9,"s":"101.7kN"},
{"p":"j","t":"n","x1":5.32,"x2":9.22,"y1":-30.5,"y2":-85.6,"xc":7.27,"yc":-58,"a1":6.62,"b1":-30.5,"a2":5.67,"b2":80.2,"s":"89.3kN"},
{"p":"j","t":"n","x1":-9.53,"x2":-6.16,"y1":54.1,"y2":12.6,"xc":-7.85,"yc":33.4,"a1":-8.01,"b1":12.6,"a2":-6.02,"b2":-86.6,"s":"85.2kN"},

{"p":"a","t":"L","x1":2.63,"x2":9.73,"y1":-76,"y2":-137.6,"xc":4.0,"yc":-109},
{"p":"b","t":"L","x1":2.48,"x2":9.54,"y1":-76.9,"y2":-138.7,"xc":3.83,"yc":-109},
{"p":"c","t":"L","x1":2.62,"x2":9.5,"y1":-70.2,"y2":-128.8,"xc":3.98,"yc":-101},
{"p":"d","t":"L","x1":2.27,"x2":9.33,"y1":-67.3,"y2":-129.8,"xc":3.66,"yc":-100},
{"p":"e","t":"L","x1":2.61,"x2":9.71,"y1":-78.6,"y2":-138.7,"xc":3.98,"yc":-110},
{"p":"h","t":"L","x1":2.59,"x2":9.74,"y1":-75.9,"y2":-134,"xc":4.0,"yc":-106},
{"p":"i","t":"L","x1":2.56,"x2":9.63,"y1":-76,"y2":-137,"xc":3.93,"yc":-108},
{"p":"j","t":"L","x1":2.24,"x2":9.39,"y1":-79.5,"y2":-141.7,"xc":3.6,"yc":-112},

{"p":"a","t":"Y","x":0.52,"y":87},{"p":"b","t":"Y","x":1.05,"y":109},{"p":"c","t":"Y","x":0.76,"y":98},{"p":"d","t":"Y","x":0.77,"y":83},{"p":"e","t":"Y","x":1.0,"y":92},{"p":"h","t":"Y","x":0.85,"y":82},{"p":"i","t":"Y","x":0.56,"y":66},{"p":"j","t":"Y","x":0.91,"y":68}
]},
"facet":{"field":"p","type":"nominal","title":null,"header":{"labelOrient":"bottom","labelFont":"Liberation Serif, Noto Sans CJK JP","labelFontSize":26,"labelColor":"black","labelPadding":16,"labelExpr":"datum.value=='a'?'(a)　M-C4-S4 供試体　　\u200b':datum.value=='b'?'(b)　M-C12-S4 供試体　　\u200b':datum.value=='c'?'(c)　M-C12-B4 供試体　　\u200b':datum.value=='d'?'(d)　J-C4-S4 供試体　　\u200b':datum.value=='e'?'(e)　J-C12-S4 供試体　　\u200b':datum.value=='f'?'(f)　J-DC-S4 供試体　　\u200b':datum.value=='g'?'(g)　J-DC-B4 供試体　　\u200b':datum.value=='h'?'(h)　J-C4-S5 供試体　　\u200b':datum.value=='i'?'(i)　J-C4-S1:4　供試体　　\u200b':'(j)　J-C4-S4-H　供試体　　\u200b'"}},
"columns":2,
"spacing":{"row":18,"column":74},
"resolve":{"axis":{"x":"independent","y":"independent"}},
"spec":{"width":388,"height":169,
"resolve":{"axis":{"x":"independent","y":"independent"}},
"layer":[
{"transform":[{"filter":"datum.t=='n'"}],"mark":{"type":"rule","color":"black","strokeWidth":1},
 "encoding":{"x":{"datum":0,"type":"quantitative","scale":{"domain":[-10,10]},"axis":{"orient":"top","values":[-10,-8,-6,-4,-2,0,2,4,6,8,10],"labelExpr":"format(datum.value*7.5,'d')","title":"Horizontal displacement (mm)","grid":false,"labelPadding":8,"titlePadding":11}}}},
{"transform":[{"filter":"datum.t=='n'"}],"mark":{"type":"rule","color":"black","strokeWidth":1},
 "encoding":{"y":{"datum":0,"type":"quantitative","scale":{"domain":[-150,150]},"axis":null}}},
{"transform":[{"filter":"!datum.t"}],"mark":{"type":"line","color":"black","strokeWidth":1,"clip":true,"order":false},
 "encoding":{
  "x":{"field":"x","type":"quantitative","scale":{"domain":[-10,10]},"axis":{"orient":"bottom","values":[-10,-8,-6,-4,-2,0,2,4,6,8,10],"title":"Drift angle (%rad)","grid":true,"gridColor":"black","gridDash":[4,3],"gridWidth":0.8,"labelPadding":11,"titlePadding":11}},
  "y":{"field":"y","type":"quantitative","scale":{"domain":[-150,150]},"axis":{"values":[-150,-100,-50,0,50,100,150],"title":"Lateral force (kN)","grid":true,"gridColor":"black","gridDash":[4,3],"gridWidth":0.8,"labelPadding":20,"titlePadding":6}},
  "detail":{"field":"g","type":"nominal"}}},
{"transform":[{"filter":"datum.t=='Y'"}],"mark":{"type":"point","filled":true,"color":"#0000ff","size":45,"opacity":1},
 "encoding":{"x":{"field":"x","type":"quantitative","scale":{"domain":[-10,10]},"axis":null},"y":{"field":"y","type":"quantitative","scale":{"domain":[-150,150]},"axis":null}}},
{"transform":[{"filter":"datum.t=='L'"}],"mark":{"type":"rect","fill":"white","stroke":"black","strokeWidth":1.3},
 "encoding":{"x":{"field":"x1","type":"quantitative","scale":{"domain":[-10,10]},"axis":null},"x2":{"field":"x2"},"y":{"field":"y1","type":"quantitative","scale":{"domain":[-150,150]},"axis":null},"y2":{"field":"y2"}}},
{"transform":[{"filter":"datum.t=='L'"}],"mark":{"type":"point","filled":true,"color":"#0000ff","size":30,"opacity":1},
 "encoding":{"x":{"field":"xc","type":"quantitative","scale":{"domain":[-10,10]},"axis":null},"y":{"field":"yc","type":"quantitative","scale":{"domain":[-150,150]},"axis":null}}},
{"transform":[{"filter":"datum.t=='L'"}],"mark":{"type":"text","align":"left","baseline":"middle","dx":8,"font":"Noto Sans CJK JP","fontSize":12,"color":"#333333","text":"軸方向鉄筋降伏"},
 "encoding":{"x":{"field":"xc","type":"quantitative","scale":{"domain":[-10,10]},"axis":null},"y":{"field":"yc","type":"quantitative","scale":{"domain":[-150,150]},"axis":null}}},
{"transform":[{"filter":"datum.t=='n'"}],"mark":{"type":"rule","color":"#3cb371","strokeWidth":1.2},
 "encoding":{"x":{"field":"a1","type":"quantitative","scale":{"domain":[-10,10]},"axis":null},"x2":{"field":"a2"},"y":{"field":"b1","type":"quantitative","scale":{"domain":[-150,150]},"axis":null},"y2":{"field":"b2"}}},
{"transform":[{"filter":"datum.t=='n'"}],"mark":{"type":"rect","fill":"white","stroke":"#3cb371","strokeWidth":1.4},
 "encoding":{"x":{"field":"x1","type":"quantitative","scale":{"domain":[-10,10]},"axis":null},"x2":{"field":"x2"},"y":{"field":"y1","type":"quantitative","scale":{"domain":[-150,150]},"axis":null},"y2":{"field":"y2"}}},
{"transform":[{"filter":"datum.t=='n'"}],"mark":{"type":"text","align":"center","baseline":"middle","font":"Liberation Serif","fontSize":17,"color":"black"},
 "encoding":{"x":{"field":"xc","type":"quantitative","scale":{"domain":[-10,10]},"axis":null},"y":{"field":"yc","type":"quantitative","scale":{"domain":[-150,150]},"axis":null},"text":{"field":"s"}}}
]}}
